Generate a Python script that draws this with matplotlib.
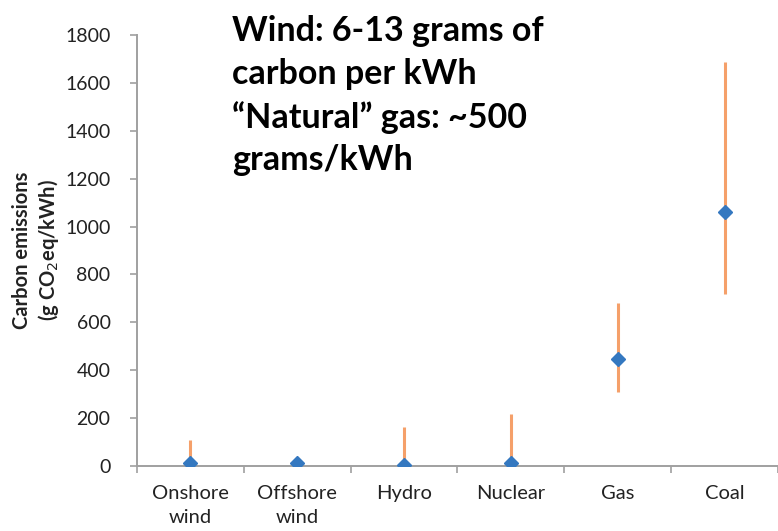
import numpy as np
import matplotlib.pyplot as plt

# data
sources = ["Onshore\nwind", "Offshore\nwind", "Hydro", "Nuclear", "Gas", "Coal"]
median = [12, 12, 5, 14, 447, 1060]
low = [7, 8, 2, 4, 310, 718]
high = [108, 14, 163, 217, 680, 1689]

plt.rcParams['font.family'] = ['Lato', 'DejaVu Sans']

fig = plt.figure(figsize=(7.78, 5.31), dpi=100)
ax = fig.add_axes([0.176, 0.1224, 0.824, 0.8117])

x = np.arange(len(sources))
med = np.array(median)
err = [med - np.array(low), np.array(high) - med]

ax.errorbar(x, med, yerr=err, fmt='none', ecolor='#F5A06A', elinewidth=2.2,
            capsize=0, zorder=2)
ax.plot(x, med, linestyle='none', marker='D', markersize=7.5,
        color='#3478C0', zorder=3)

ax.set_xlim(-0.5, len(sources) - 0.5)
ax.set_ylim(0, 1800)
ax.set_yticks(np.arange(0, 1801, 200))
ax.set_xticks(x)
ax.set_xticklabels(sources, fontsize=14.5, color='#222222', linespacing=1.45)
ax.set_xticks(np.arange(-0.5, len(sources), 1), minor=True)
ax.tick_params(axis='x', which='major', length=0, pad=14)
ax.tick_params(axis='x', which='minor', length=5, width=1.2, color='#A0A0A0')
ax.tick_params(axis='y', length=5, width=1.2, color='#A0A0A0',
               labelsize=14, labelcolor='#222222', pad=14)

for s in ['top', 'right']:
    ax.spines[s].set_visible(False)
for s in ['left', 'bottom']:
    ax.spines[s].set_color('#A0A0A0')
    ax.spines[s].set_linewidth(1.4)

ax.set_ylabel("Carbon emissions\n(g CO$_2$eq/kWh)", fontsize=14.5,
              fontweight='bold', color='#222222', labelpad=3, linespacing=1.2)

fig.text(0.298, 0.972,
         "Wind: 6-13 grams of\ncarbon per kWh\n\u201cNatural\u201d gas: ~500\ngrams/kWh",
         fontsize=24.5, fontweight='bold', va='top', ha='left', linespacing=1.41)

fig.savefig("out.png", dpi=100)
